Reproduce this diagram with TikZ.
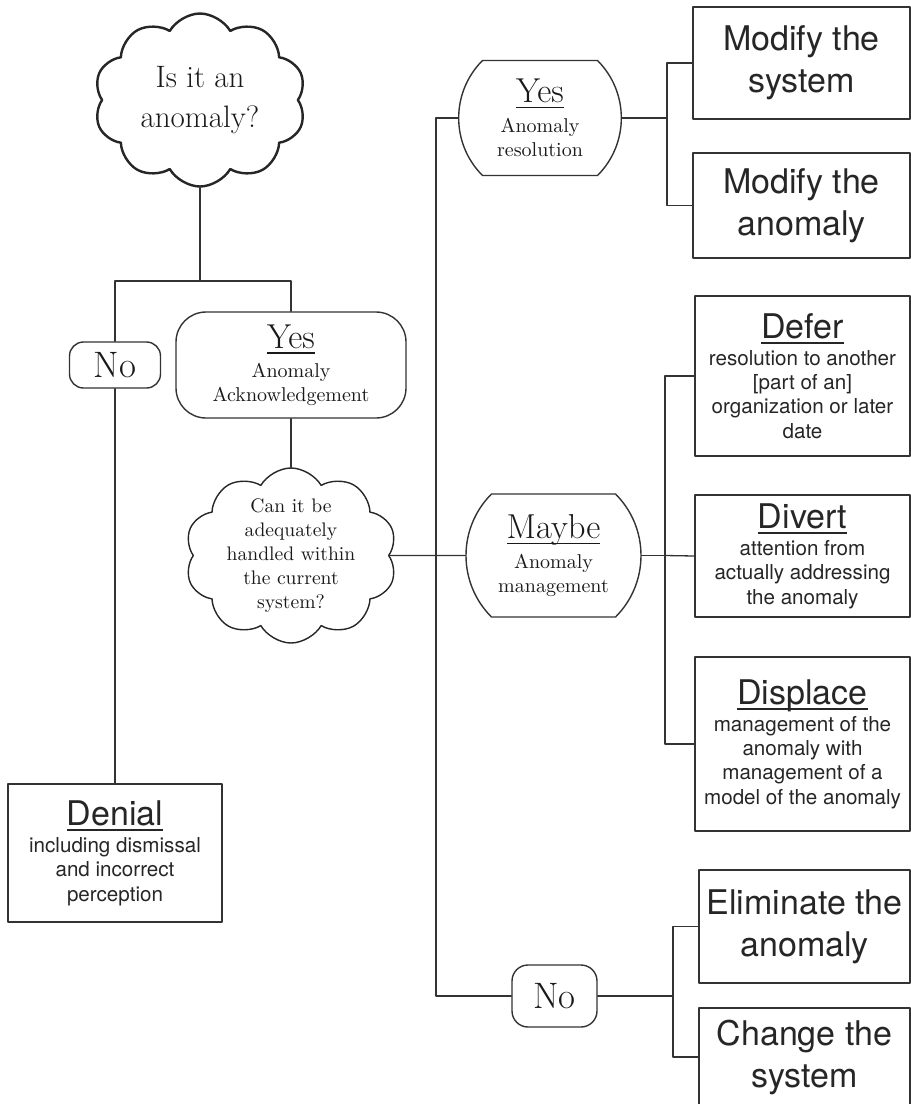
\documentclass[tikz,border=0pt]{standalone}
\usepackage{amsmath}
\usepackage{fontspec}
\setsansfont{TeX Gyre Heros}
\usepackage{tikz}
\usetikzlibrary{shapes.symbols,shapes.misc}

% underlined heading, rule through the descenders
\newcommand{\ulhead}[1]{\underline{\smash[b]{#1}}}
\newcommand{\bigsans}{\sffamily\fontsize{17}{21}\selectfont}
\newcommand{\smallsans}{\sffamily\fontsize{10.3}{12.2}\selectfont}
\newcommand{\sanshead}[1]{{\fontsize{17}{21}\selectfont\ulhead{#1}}}
\newcommand{\serifhead}[1]{{\fontsize{17.3}{20}\selectfont\ulhead{#1}}}

\tikzset{
	link/.style={draw=black!80, line width=0.65pt},
	thought/.style={cloud, cloud puffs=10, cloud puff arc=120, aspect=1.25, draw=black!85, align=center, inner sep=0pt, text=black!90},
	pill/.style={draw=black!80, line width=0.7pt, align=center, inner sep=0pt, text=black!90},
	barrel/.style={pill, rounded rectangle, rounded rectangle arc length=90},
	outcome/.style={draw=black!80, line width=0.75pt, align=center, inner sep=0pt, text=black!85},
}

\begin{document}
\begin{tikzpicture}[x=0.5pt, y=-0.5pt, line cap=round, line join=round]
	\clip (0,0) rectangle (911,1104);

	% first question
	\node[thought, line width=1.2pt, inner ysep=-4pt, minimum width=106pt, minimum height=86.5pt,
		font=\fontsize{15.5}{20}\selectfont] (q1) at (200,100) {Is it an\\anomaly?};

	% first split
	\coordinate (j1) at (200,281);
	\node[pill, rounded corners=7pt, minimum width=45.5pt, minimum height=23pt,
		font=\fontsize{18.4}{20}\selectfont] (noa) at (115,365) {No};
	\node[pill, rounded corners=15pt, minimum width=115pt, minimum height=53pt,
		font=\fontsize{10}{12}\selectfont] (yesa) at (291,365)
		{\serifhead{Yes}\\[2.5pt]Anomaly\\Acknowledgement};
	\draw[link] (q1.south) -- (j1);
	\draw[link] (noa.north) |- (j1) -| (yesa.north);

	% denial
	\node[outcome, minimum width=107pt, minimum height=69pt, font=\smallsans] (denial) at (115,853)
		{\sanshead{Denial}\\[1.3pt]including dismissal\\and incorrect\\perception};
	\draw[link] (noa.south) -- (denial.north);

	% second question
	\node[thought, line width=0.7pt, inner ysep=-9pt, minimum width=106pt, minimum height=87.5pt,
		font=\fontsize{9.8}{12}\selectfont] (q2) at (291,555.5)
		{Can it be\\adequately\\handled within\\the current\\system?};
	\draw[link] (yesa.south) -- (q2.north);

	% second split
	\node[barrel, minimum width=74pt, minimum height=57.5pt, font=\fontsize{10}{12}\selectfont] (yesr) at (540,118)
		{\serifhead{Yes}\\[3pt]Anomaly\\resolution};
	\node[barrel, minimum width=87.5pt, minimum height=61.5pt, font=\fontsize{10}{12}\selectfont] (maybe) at (553.5,555.5)
		{\serifhead{Maybe}\\[3pt]Anomaly\\management};
	\node[pill, rounded corners=8pt, minimum width=42.5pt, minimum height=31pt,
		font=\fontsize{18.4}{20}\selectfont] (nob) at (554.5,996) {No};
	\coordinate (busbot) at (436,996);
	\draw[link] (yesr.west) -| (busbot) -- (nob.west);
	\draw[link] (q2.east) -- (maybe.west);

	% resolution
	\node[outcome, minimum width=108.5pt, minimum height=56pt, font=\bigsans] (msys) at (801.5,63) {Modify the\\system};
	\node[outcome, minimum width=108.5pt, minimum height=52.5pt, font=\bigsans] (manom) at (801.5,205.5) {Modify the\\anomaly};
	\coordinate (fyes) at (667,118);
	\draw[link] (yesr.east) -- (fyes);
	\draw[link] (msys.west) -| (fyes) |- (manom.west);

	% management
	\node[outcome, minimum width=107.5pt, minimum height=80pt, font=\smallsans] (defer) at (802.5,376)
		{\sanshead{Defer}\\[1.3pt]resolution to another\\{[part of an]}\\organization or later\\date};
	\node[outcome, minimum width=107.5pt, minimum height=61pt, font=\smallsans] (divert) at (802.5,556)
		{\sanshead{Divert}\\[1.3pt]attention from\\actually addressing\\the anomaly};
	\node[outcome, minimum width=107.5pt, minimum height=87pt, font=\smallsans] (displace) at (802.5,744)
		{\sanshead{Displace}\\[1.3pt]management of the\\anomaly with\\management of a\\model of the anomaly};
	\coordinate (fmay) at (665,555.5);
	\draw[link] (maybe.east) -- (fmay);
	\draw[link] (defer.west) -| (fmay) |- (displace.west);
	\draw[link] (fmay) -- (divert.west);

	% rejection
	\node[outcome, minimum width=105.5pt, minimum height=56.5pt, font=\bigsans] (elim) at (804.5,926.5) {Eliminate the\\anomaly};
	\node[outcome, minimum width=105.5pt, minimum height=49pt, font=\bigsans] (change) at (804.5,1057) {Change the\\system};
	\coordinate (fno) at (673,996);
	\draw[link] (nob.east) -- (fno);
	\draw[link] (elim.west) -| (fno) |- (change.west);
\end{tikzpicture}
\end{document}
